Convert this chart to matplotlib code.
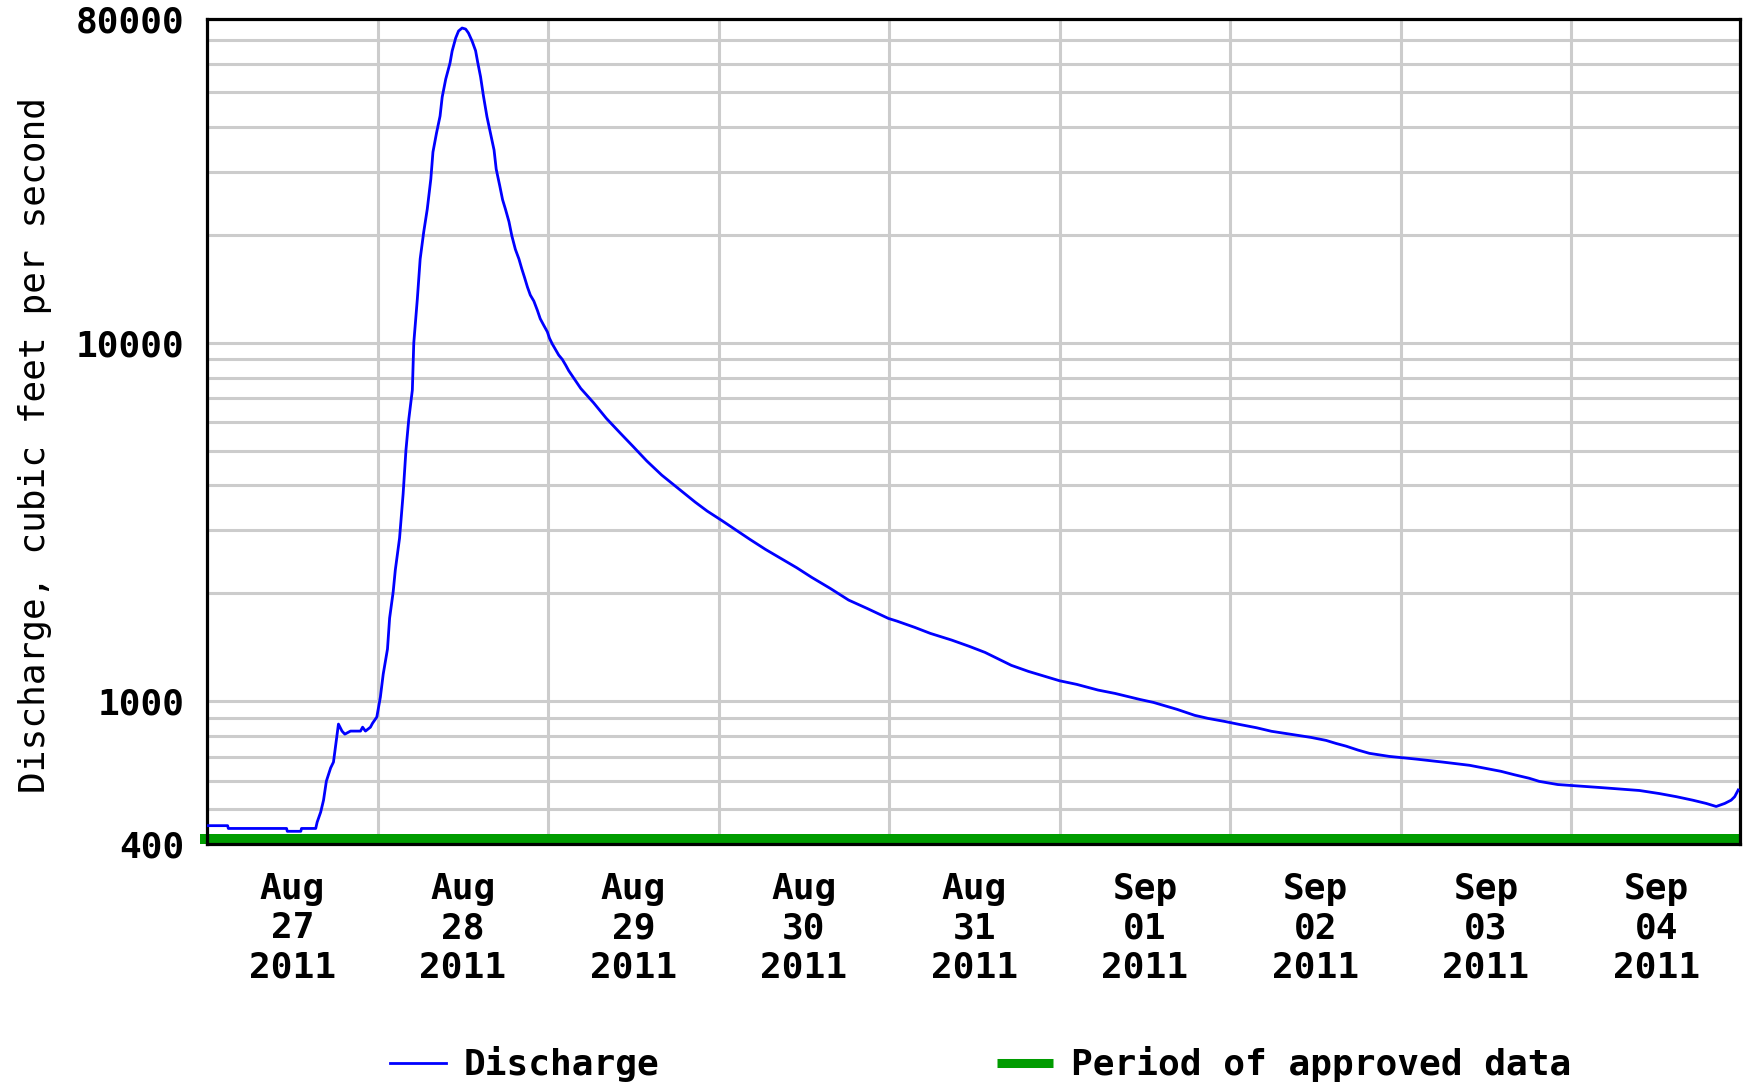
import numpy as np
import pandas as pd
import matplotlib
matplotlib.use('Agg')
import matplotlib.pyplot as plt
import matplotlib.dates as mdates
import matplotlib.patches as mpatches
from matplotlib.lines import Line2D
from matplotlib.ticker import FixedLocator, FixedFormatter, NullFormatter

plt.rcParams['font.family'] = 'DejaVu Sans Mono'
plt.rcParams['font.weight'] = 'bold'

# discharge, hours after 2011-08-27 00:00 and cubic feet per second
hours = [0.0, 2.9, 3.0, 11.2, 11.3, 13.2, 13.3, 15.3, 15.5, 16.0, 16.4, 16.8,
         17.4, 17.8, 18.2, 18.5, 19.0, 19.4, 20.2, 21.6, 21.9, 22.3, 23.0, 23.3,
         23.9, 24.4, 24.8, 25.4, 25.7, 26.2, 26.5, 27.1, 27.6, 28.0, 28.4, 28.9,
         29.1, 29.6, 30.0, 30.5, 31.0, 31.5, 31.8, 32.3, 32.8, 33.1, 33.6, 34.2,
         34.5, 35.0, 35.4, 35.9, 36.4, 36.8, 37.3, 37.8, 38.1, 38.5, 38.9, 39.4,
         39.9, 40.4, 40.7, 41.2, 41.6, 42.0, 42.5, 42.9, 43.4, 43.9, 44.3, 44.7,
         45.1, 45.5, 46.0, 46.5, 46.9, 47.4, 47.9, 48.2, 48.6, 49.1, 49.5, 50.0,
         50.5, 50.9, 52.6, 54.4, 56.2, 58.2, 60.0, 61.9, 64.0, 66.5, 68.7, 70.4,
         72.5, 74.6, 76.4, 78.6, 80.2, 83.0, 85.1, 87.7, 90.3, 92.9, 95.9, 97.1,
         99.6, 101.8, 104.8, 107.3, 109.5, 111.4, 113.2, 115.6, 118.4, 120.0,
         122.4, 125.4, 127.8, 131.3, 133.2, 136.5, 139.0, 140.9, 143.2, 145.3,
         147.7, 149.8, 152.6, 155.4, 157.5, 158.9, 160.3, 162.0, 163.6, 166.4,
         170.2, 173.9, 177.7, 180.0, 182.1, 184.0, 186.1, 187.5, 190.1, 196.0,
         201.6, 204.4, 206.8, 209.1, 211.0, 212.4, 213.6, 214.5, 215.0, 215.5]
cfs = [450, 450, 442, 442, 434, 434, 442, 442, 460, 491, 530, 599,
       652, 677, 780, 864, 826, 810, 826, 826, 847, 826, 847, 869,
       904, 1028, 1191, 1399, 1706, 2018, 2323, 2852, 3785, 5020, 6125, 7380,
       9980, 13240, 17130, 20370, 23600, 28620, 34040, 38460, 42890, 48450, 54410, 60270,
       65120, 70800, 74060, 75500, 74990, 73100, 69500, 65260, 60560, 55200, 48870, 42710,
       38380, 34480, 30520, 27420, 25060, 23600, 21760, 19890, 18220, 17130, 16090, 15190,
       14300, 13590, 13070, 12310, 11670, 11180, 10730, 10300, 9920, 9530, 9240, 8990,
       8650, 8365, 7460, 6805, 6155, 5588, 5130, 4680, 4275, 3900, 3595, 3393,
       3189, 2990, 2830, 2653, 2541, 2358, 2217, 2066, 1916, 1816, 1703, 1674,
       1608, 1547, 1482, 1423, 1369, 1312, 1260, 1212, 1166, 1141,
       1115, 1075, 1052, 1012, 993, 950, 914, 896, 879, 862,
       844, 825, 809, 793, 778, 763, 750, 731, 716, 702,
       690, 677, 663, 650, 638, 624, 610, 598, 586, 575,
       564, 553, 542, 530, 519, 509, 519, 530, 542, 566]

start = pd.Timestamp('2011-08-27 00:00')
end = pd.Timestamp('2011-09-04 23:45')
approved_start = pd.Timestamp('2011-08-26 23:00')
approved_end = end
days = pd.date_range('2011-08-27', '2011-09-04', freq='D')
y_labels = [400, 1000, 10000, 80000]

times = start + pd.to_timedelta(hours, unit='h')
blue = '#0000ff'
green = '#009c00'
fs = 26

fig = plt.figure(figsize=(17.52, 10.85), dpi=100)
ax = fig.add_axes([207 / 1752, 1 - 844 / 1085, 1533 / 1752, 825 / 1085])

line, = ax.plot(times, cfs, color=blue, lw=2.0, zorder=3)

# approved-data band along the bottom
x0 = mdates.date2num(approved_start)
x1 = mdates.date2num(approved_end)
ax.add_patch(mpatches.Rectangle((x0, 0), x1 - x0, 0.0125,
                                transform=ax.get_xaxis_transform(),
                                color=green, lw=0, clip_on=False, zorder=2.4))

ax.set_yscale('log')
ax.set_ylim(400, 80000)
ax.set_xlim(start, end)

ax.yaxis.set_major_locator(FixedLocator(y_labels))
ax.yaxis.set_major_formatter(FixedFormatter([str(v) for v in y_labels]))
minor_y = [m * 10 ** e for e in (2, 3, 4) for m in range(1, 10)]
minor_y = [v for v in minor_y if 400 <= v <= 80000]
ax.yaxis.set_minor_locator(FixedLocator(minor_y))
ax.yaxis.set_minor_formatter(NullFormatter())

noon = days + pd.Timedelta(hours=12)
ax.set_xticks(noon)
ax.xaxis.set_major_formatter(mdates.DateFormatter('%b\n%d\n%Y'))
ax.xaxis.set_minor_locator(FixedLocator(mdates.date2num(days[1:])))

ax.grid(True, which='minor', color='#cccccc', lw=2.2)
ax.grid(True, which='major', axis='y', color='#cccccc', lw=2.2)
ax.set_axisbelow(True)

ax.tick_params(which='both', length=0)
ax.tick_params(axis='y', pad=16, labelsize=fs)
ax.tick_params(axis='x', pad=20, labelsize=fs)
for lab in ax.get_xticklabels():
    lab.set_linespacing(1.2)

for sp in ax.spines.values():
    sp.set_linewidth(2.3)
    sp.set_color('black')

ax.set_ylabel('Discharge, cubic feet per second', fontsize=fs)
ax.yaxis.set_label_coords(-0.112, 0.484)
ax.yaxis.label.set_va('center')

handles = [Line2D([], [], color=blue, lw=2.0),
           Line2D([], [], color=green, lw=6.5, solid_capstyle='butt')]
ax.legend(handles, ['Discharge', 'Period of approved data'], loc='center',
          bbox_to_anchor=(0.5045, -0.267), ncol=2, frameon=False, fontsize=fs,
          handlelength=1.55, handletextpad=0.5, columnspacing=9.35)

fig.savefig('out.png', dpi=100)
